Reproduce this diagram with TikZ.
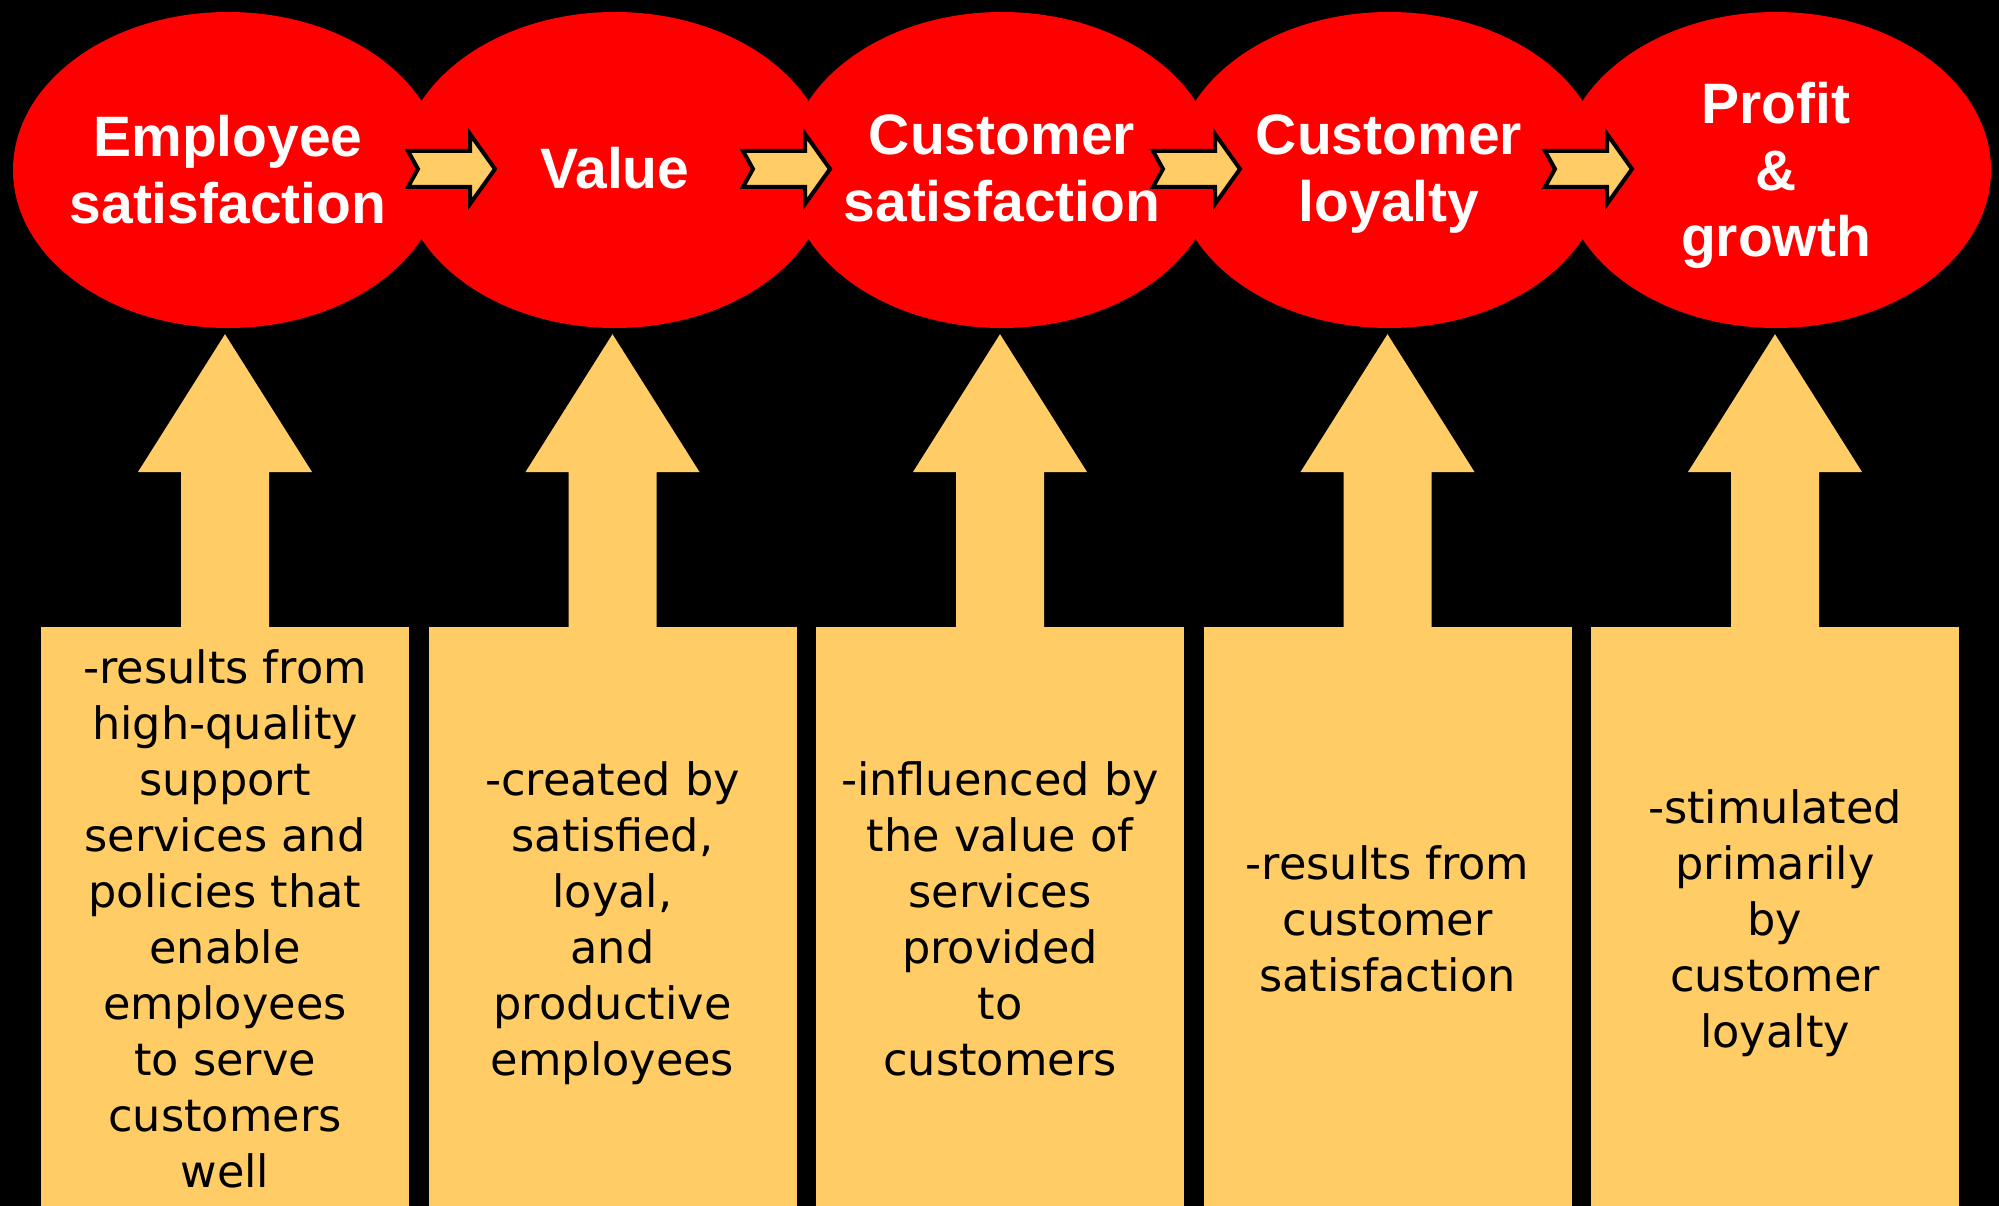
\documentclass[tikz,border=0pt]{standalone}
\usepackage{fontspec}
\setmainfont{Liberation Sans}
\newfontfamily\notefont{DejaVu Sans}
\usetikzlibrary{calc,shapes.geometric}
\definecolor{chainred}{RGB}{255,0,0}
\definecolor{sand}{RGB}{255,204,102}

\begin{document}
\begin{tikzpicture}[x=1pt,y=-1pt,
  stage/.style={ellipse, fill=chainred, minimum width=430pt, minimum height=316pt, inner sep=0pt},
  stagetext/.style={anchor=north, inner sep=0pt, text=white, align=center,
    font=\fontsize{57}{66.5}\selectfont\bfseries},
  driver/.style={anchor=north, fill=sand, minimum width=368pt, minimum height=590pt, inner sep=0pt},
  drivertext/.style={anchor=north, inner sep=0pt, align=center, text=black,
    font=\notefont\fontsize{44.6}{56}\selectfont},
  linkarrow/.style={fill=sand, draw=black, line width=4pt, line join=miter},
  push/.pic={\draw[linkarrow] (2,-18) -- (64,-18) -- (64,-35) -- (89,0) -- (64,35)
      -- (64,18) -- (2,18) -- (12,0) -- cycle;}
]
\useasboundingbox (0,0) rectangle (1999,1206);
\fill[black] (0,0) rectangle (1999,1206);

% the chain of stages
\foreach \i/\x in {1/228,2/615,3/1002,4/1389,5/1776}
  \node[stage] (e\i) at (\x,170) {};

\node[stagetext] (l1) at (228,115) {Employee\\satisfaction};
\node[stagetext] (l2) at (615,147) {Value};
\node[stagetext] (l3) at (1002,115) {Customer\\satisfaction};
\node[stagetext] (l4) at (1389,115) {Customer\\loyalty};
\node[stagetext] (l5) at (1776,82) {Profit\\\&\\growth};

% block arrows linking neighbouring stages
\pic at ($(e1.center)+(178,-1)$) {push};
\pic at ($(e2.center)+(126,-1)$) {push};
\pic at ($(e3.center)+(149,-1)$) {push};
\pic at ($(e4.center)+(154,-1)$) {push};

% driver boxes
\foreach \i/\x in {1/225,2/612.5,3/1000,4/1387.5,5/1775}
  \node[driver] (b\i) at (\x,627) {};

% upward arrows from each box to its stage
\foreach \i in {1,...,5}{
  \coordinate (tip\i) at ($(b\i.north |- e\i.south)+(0,6)$);
  \fill[sand] ($(b\i.north)+(-44,2)$) -- ++(0,-157) -- ++(-43,0) -- (tip\i)
    -- ($(b\i.north)+(87,-155)$) -- ++(-43,0) -- ($(b\i.north)+(44,2)$) -- cycle;
}

\node[drivertext] (t1) at (225,649) {-results from\\high-quality\\support\\services and\\policies that\\enable\\employees\\to serve\\customers\\well};
\node[drivertext] (t2) at (612.5,761) {-created by\\satisfied,\\loyal,\\and\\productive\\employees};
\node[drivertext] (t3) at (1000,761) {-influenced by\\the value of\\services\\provided\\to\\customers};
\node[drivertext] (t4) at (1387.5,845) {-results from\\customer\\satisfaction};
\node[drivertext] (t5) at (1775,789) {-stimulated\\primarily\\by\\customer\\loyalty};
\end{tikzpicture}
\end{document}
